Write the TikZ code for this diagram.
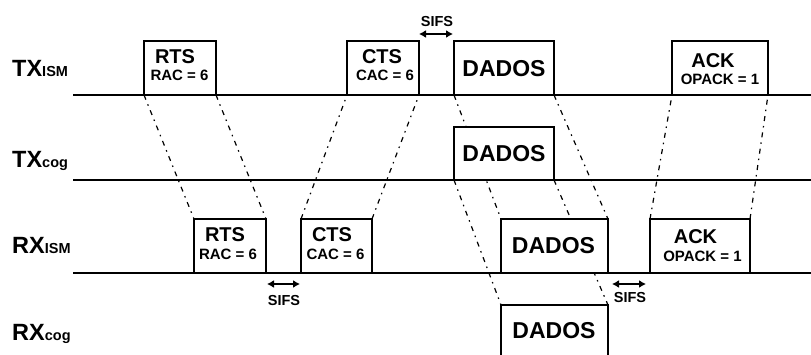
\documentclass[tikz,border=0pt]{standalone}
\usepackage{fontspec}
\setmainfont{Liberation Sans}
\usetikzlibrary{arrows.meta}
\newcommand{\fs}[1]{\fontsize{#1}{#1}\selectfont}
\tikzset{
  timeline/.style={line width=1.7pt},
  pkt/.style={draw, line width=1.6pt, fill=white, inner sep=0pt, outer sep=0pt, anchor=south west},
  prop/.style={line width=1.2pt, dash pattern=on 5pt off 5pt on 1.5pt off 5pt},
  sifs/.style={line width=1.5pt, {Latex[length=7pt,width=8pt]}-{Latex[length=7pt,width=8pt]}},
  big/.style={font=\bfseries\fs{20}, anchor=base, inner sep=0pt},
  small/.style={font=\bfseries\fs{15}, anchor=base, inner sep=0pt},
  data/.style={font=\bfseries\fs{23}, anchor=base, inner sep=0pt},
  sifstxt/.style={font=\bfseries\fs{14.5}, anchor=base, inner sep=0pt},
  lane/.style={anchor=base west, inner sep=0pt, font=\bfseries\fs{23.5}},
}
\begin{document}
\begin{tikzpicture}[x=1pt,y=-1pt]
\clip (0,0) rectangle (811,354);
\fill[white] (0,0) rectangle (811,354);

% time axes
\coordinate (a1) at (73,95);  \coordinate (b1) at (811,95);
\coordinate (a2) at (73,180); \coordinate (b2) at (811,180);
\coordinate (a3) at (73,273); \coordinate (b3) at (811,273);
\coordinate (a4) at (73,359); \coordinate (b4) at (811,359);
\draw[timeline] (a1) -- (b1);
\draw[timeline] (a2) -- (b2);
\draw[timeline] (a3) -- (b3);
\draw[timeline] (a4) -- (b4);

% lane names
\node[lane] (lTX)  at (12,76)  {TX\fs{14.5}ISM};
\node[lane] (lTXc) at (12,167) {TX\fs{14.5}cog};
\node[lane] (lRX)  at (12,253) {RX\fs{14.5}ISM};
\node[lane] (lRXc) at (12,340) {RX\fs{14.5}cog};

% frame positions (lower left corners)
\path
  (144,95) coordinate (ptxrts)  (347,95) coordinate (ptxcts)
  (454,95) coordinate (ptxdata) (672,95) coordinate (ptxack)
  (454,180) coordinate (pcogdata)
  (194,273) coordinate (prxrts) (301,273) coordinate (prxcts)
  (501,273) coordinate (prxdata) (650,273) coordinate (prxack)
  (501,359) coordinate (prxcogdata);

\node[pkt, minimum width=72,  minimum height=54] (txrts)  at (ptxrts)  {};
\node[pkt, minimum width=72,  minimum height=54] (txcts)  at (ptxcts)  {};
\node[pkt, minimum width=100, minimum height=54] (txdata) at (ptxdata) {};
\node[pkt, minimum width=96,  minimum height=54] (txack)  at (ptxack)  {};
\node[pkt, minimum width=72,  minimum height=54] (rxrts)  at (prxrts)  {};
\node[pkt, minimum width=71,  minimum height=54] (rxcts)  at (prxcts)  {};
\node[pkt, minimum width=107, minimum height=54] (rxdata) at (prxdata) {};
\node[pkt, minimum width=100, minimum height=54] (rxack)  at (prxack)  {};
\node[pkt, minimum width=100, minimum height=53] (cogdata)   at (pcogdata)   {};
\node[pkt, minimum width=107, minimum height=54] (rxcogdata) at (prxcogdata) {};

% propagation lines
\draw[prop] (txrts.south west) -- (rxrts.north west);
\draw[prop] (txrts.south east) -- (rxrts.north east);
\draw[prop] (rxcts.north west) -- (txcts.south west);
\draw[prop] (rxcts.north east) -- (txcts.south east);
\draw[prop] (txdata.south west) -- (rxdata.north west);
\draw[prop] (txdata.south east) -- (rxdata.north east);
\draw[prop] (cogdata.south west) -- (rxcogdata.north west);
\draw[prop] (cogdata.south east) -- (rxcogdata.north east);
\draw[prop] (rxack.north west) -- (txack.south west);
\draw[prop] (rxack.north east) -- (txack.south east);

% frames redrawn over the lines that pass behind them
\node[pkt, minimum width=100, minimum height=53] (cogdataF)   at (pcogdata)   {};
\node[pkt, minimum width=107, minimum height=54] (rxdataF)    at (prxdata)    {};
\node[pkt, minimum width=107, minimum height=54] (rxcogdataF) at (prxcogdata) {};

% frame contents
\node[big]   (t1) at (175,63)  {RTS};
\node[small] (t2) at (179.5,80) {RAC = 6};
\node[big]   (t3) at (382,63)  {CTS};
\node[small] (t4) at (385,80)  {CAC = 6};
\node[data]  (t5) at (504,76)  {DADOS};
\node[big]   (t6) at (713,67)  {ACK};
\node[small] (t7) at (720,84.5) {OPACK = 1};
\node[data]  (t8) at (504,161) {DADOS};
\node[big]   (r1) at (225,241) {RTS};
\node[small] (r2) at (228,259) {RAC = 6};
\node[big]   (r3) at (332,241) {CTS};
\node[small] (r4) at (335.5,259) {CAC = 6};
\node[data]  (r5) at (553.5,253.5) {DADOS};
\node[big]   (r6) at (695.5,243) {ACK};
\node[small] (r7) at (702.5,261.5) {OPACK = 1};
\node[data]  (r8) at (554,338) {DADOS};

% SIFS intervals
\coordinate (s1a) at (419,34);  \coordinate (s1b) at (453,34);
\coordinate (s2a) at (267,284); \coordinate (s2b) at (300,284);
\coordinate (s3a) at (612,284); \coordinate (s3b) at (646,284);
\draw[sifs] (s1a) -- (s1b);
\draw[sifs] (s2a) -- (s2b);
\draw[sifs] (s3a) -- (s3b);
\node[sifstxt] (st1) at (437,26)  {SIFS};
\node[sifstxt] (st2) at (284,305) {SIFS};
\node[sifstxt] (st3) at (630,302) {SIFS};
\end{tikzpicture}
\end{document}
